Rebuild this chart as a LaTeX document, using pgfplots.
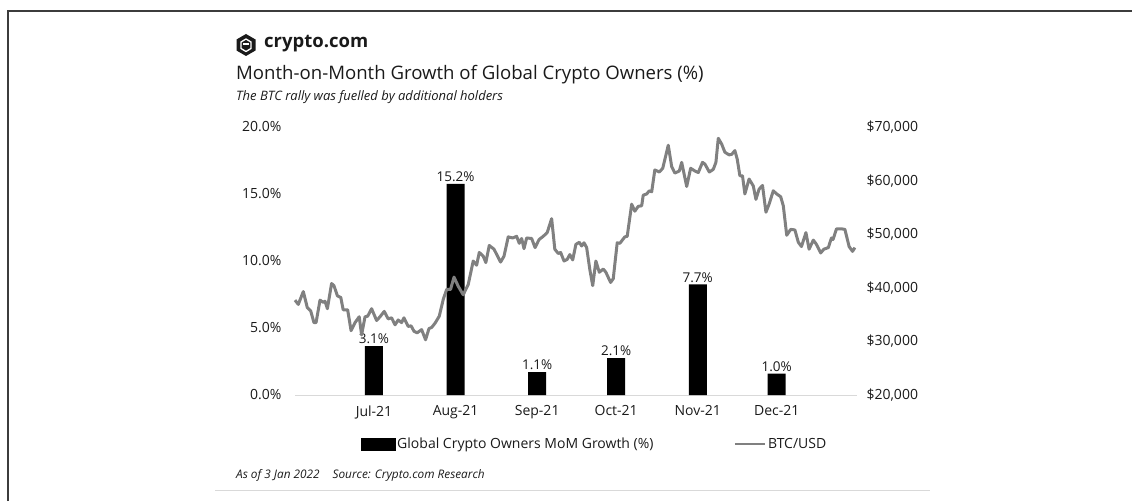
\documentclass[border=0pt]{standalone}
\usepackage{fontspec}
\setmainfont{Open Sans}
\usepackage{pgfplots}
\pgfplotsset{compat=1.18}
\definecolor{btcgray}{RGB}{128,128,128}
\definecolor{basegray}{RGB}{217,217,217}
\definecolor{framegray}{RGB}{60,60,60}
\definecolor{txt}{RGB}{26,26,26}

% monthly growth: x = day since 1 Jun 2021, h = bar height as drawn, v = label
\pgfplotstableread{
x   h      v
30  3.65   3.1
61  15.75  15.2
92  1.70   1.1
122 2.75   2.1
153 8.25   7.7
183 1.60   1.0
}\growth

\begin{document}
\begin{tikzpicture}[x=1pt,y=1pt]
\path[use as bounding box] (0pt,0pt) rectangle (1132pt,501pt);
\draw[framegray,line width=1.6pt] (8pt,0pt) -- (8pt,490pt) -- (1132pt,490pt);
\draw[basegray,line width=1pt] (215pt,11pt) -- (930pt,11pt);

% logo
\fill[txt] (246pt,467pt) -- (236.5pt,461.5pt) -- (236.5pt,450.5pt) -- (246pt,445pt) -- (255.5pt,450.5pt) -- (255.5pt,461.5pt) -- cycle;
\draw[white,line width=1.3pt,line join=round] (246pt,462pt) -- (241pt,459pt) -- (241pt,452.5pt) -- (246pt,449.5pt) -- (251pt,452.5pt) -- (251pt,459pt) -- cycle;
\draw[white,line width=1.3pt] (243pt,457pt) -- (249pt,457pt);
\node[anchor=west,inner sep=0,font=\fontsize{18.5}{18.5}\selectfont\bfseries,text=txt] at (264pt,457pt) {crypto.com};

\node[anchor=west,inner sep=0,font=\fontsize{18.6}{18.6}\selectfont,text=txt] at (236pt,426pt) {Month-on-Month Growth of Global Crypto Owners (\%)};
\node[anchor=west,inner sep=0,font=\fontsize{13}{13}\selectfont\itshape,text=txt] at (236pt,404pt) {The BTC rally was fuelled by additional holders};
\node[anchor=west,inner sep=0,font=\fontsize{11.8}{11.8}\selectfont\itshape,text=txt] at (236pt,26pt) {As of 3 Jan 2022\hspace{13pt}Source: Crypto.com Research};

\begin{axis}[at={(295pt,106pt)},anchor=south west,scale only axis,
  width=562pt,height=268pt,
  xmin=0,xmax=213.5,ymin=0,ymax=20,
  ybar,bar width=18pt,
  axis line style={draw=none},major tick length=0pt,
  xtick={30,61,92,122,153,183},
  xticklabels={Jul-21,Aug-21,Sep-21,Oct-21,Nov-21,Dec-21},
  ytick={0,5,10,15,20},
  yticklabel={\pgfmathprintnumber[fixed,fixed zerofill,precision=1]{\tick}\%},
  /pgf/number format/assume math mode=true,
  ticklabel style={font=\fontsize{14}{14}\selectfont,text=txt},
  xticklabel style={yshift=-7pt},
  yticklabel style={xshift=-10pt},
  clip=false]
\draw[basegray,line width=1pt] (rel axis cs:0,0) -- (rel axis cs:1,0);
\addplot[fill=black,draw=none,
  point meta=explicit,
  nodes near coords={\pgfmathprintnumber[fixed,fixed zerofill,precision=1]{\pgfplotspointmeta}\%},
  every node near coord/.append style={font=\fontsize{13.5}{13.5}\selectfont,text=txt,inner sep=2pt}]
  table[x=x,y=h,meta=v] {\growth};
\end{axis}

\begin{axis}[at={(295pt,106pt)},anchor=south west,scale only axis,
  width=562pt,height=268pt,
  xmin=0,xmax=213.5,ymin=20000,ymax=70000,
  hide x axis,axis y line*=right,axis line style={draw=none},major tick length=0pt,
  ytick={20000,30000,40000,50000,60000,70000},scaled y ticks=false,
  yticklabel={\$\pgfmathprintnumber[fixed,precision=0,1000 sep={,}]{\tick}},
  /pgf/number format/assume math mode=true,
  yticklabel style={font=\fontsize{14}{14}\selectfont,text=txt,anchor=west,xshift=6pt},
  legend style={at={(0.533,-0.183)},anchor=center,draw=none,fill=none,
    legend columns=2,font=\fontsize{14}{14}\selectfont,text=txt,
    /tikz/every even column/.append style={column sep=78pt}},
  clip=false]
\addlegendimage{legend image code/.code={\fill[black] (0pt,-6pt) rectangle (34pt,6pt);}}
\addlegendentry{Global Crypto Owners MoM Growth (\%)}
\addplot[btcgray,line width=3pt,line join=round,
  legend image code/.code={\draw[btcgray,line width=2.6pt] (0pt,0pt) -- (30pt,0pt);}]
  coordinates {
(0,37700) (1.25,36900) (3.15,39300) (4.67,36300) (5.96,35700) (7.2,33500) (8.0,33500)
(9.5,37700) (10.7,37300) (11.4,37500) (12.3,36100) (13.9,40800) (14.8,40400) (16.1,38500)
(17.4,38200) (18.3,35900) (20.0,35900) (21.3,32000) (22.8,33500) (24.4,34600) (25.3,31200)
(26.6,34600) (27.6,34700) (29.1,36100) (31.0,33900) (32.3,34600) (33.9,35600) (35.4,34200)
(36.7,34400) (38.0,33100) (39.2,34000) (40.5,33500) (41.4,34400) (43.0,32800) (44.1,32900)
(45.2,31900) (46.4,31600) (48.1,32200) (49.6,30300) (50.9,32400) (51.9,32600) (53.2,33400)
(54.8,34700) (56.3,37800) (57.6,39700) (59.1,39700) (60.4,42000) (62.0,40300) (63.9,38700)
(65.8,40600) (67.7,45000) (69.0,44200) (70.0,46600) (71.5,45900) (72.5,44700) (73.8,47900)
(75.6,47200) (78.1,44800) (79.4,45900) (81.0,49500) (82.7,49300) (84.2,49600) (85.2,48300)
(86.1,49200) (87.0,47300) (88.0,49300) (89.9,49200) (91.2,47500) (92.7,49000) (94.3,49600)
(95.8,50300) (97.5,52900) (98.7,47200) (100.0,46400) (100.9,46600) (102.2,45000) (103.4,45300)
(104.4,46200) (105.5,45200) (106.7,48100) (108.0,48500) (108.9,47800) (109.8,48400) (110.8,47500)
(112.0,43400) (113.1,40400) (114.3,45000) (115.6,42900) (117.1,43500) (118.1,42900) (119.9,41000)
(120.9,41700) (122.4,48400) (123.4,48300) (125.3,49500) (126.2,49600) (127.9,55600) (129.1,54300)
(130.4,55200) (131.7,55300) (132.3,57300) (133.6,57500) (134.6,58100) (135.5,57900) (136.7,62000)
(138.4,61600) (139.7,62300) (141.8,66600) (143.1,62600) (144.3,61400) (146.0,61800) (146.9,63400)
(148.8,58900) (150.3,62300) (151.9,61800) (153.2,61500) (154.8,63400) (155.7,63100) (157.4,61600)
(158.9,62100) (159.9,63400) (160.8,67900) (162.1,66800) (163.3,65300) (164.9,64800) (165.9,64900)
(167.1,65600) (168.0,64000) (169.0,60900) (170.0,60900) (170.9,57500) (172.5,60300) (174.1,59000)
(175.1,56500) (176.3,58400) (177.6,59100) (178.9,54100) (180.1,55600) (181.7,58100) (183.0,57500)
(184.5,57000) (185.5,55300) (186.8,49800) (188.3,50900) (189.9,50800) (191.2,48500) (192.4,47700)
(194.1,50300) (195.3,47200) (196.9,48900) (198.1,48100) (199.7,46500) (200.9,47200) (202.6,47500)
(203.8,49300) (204.4,49000) (205.7,51000) (207.6,51000) (208.9,50900) (210.5,47700) (211.8,46800)
(212.7,47500)};
\addlegendentry{BTC/USD}
\end{axis}
\end{tikzpicture}
\end{document}
